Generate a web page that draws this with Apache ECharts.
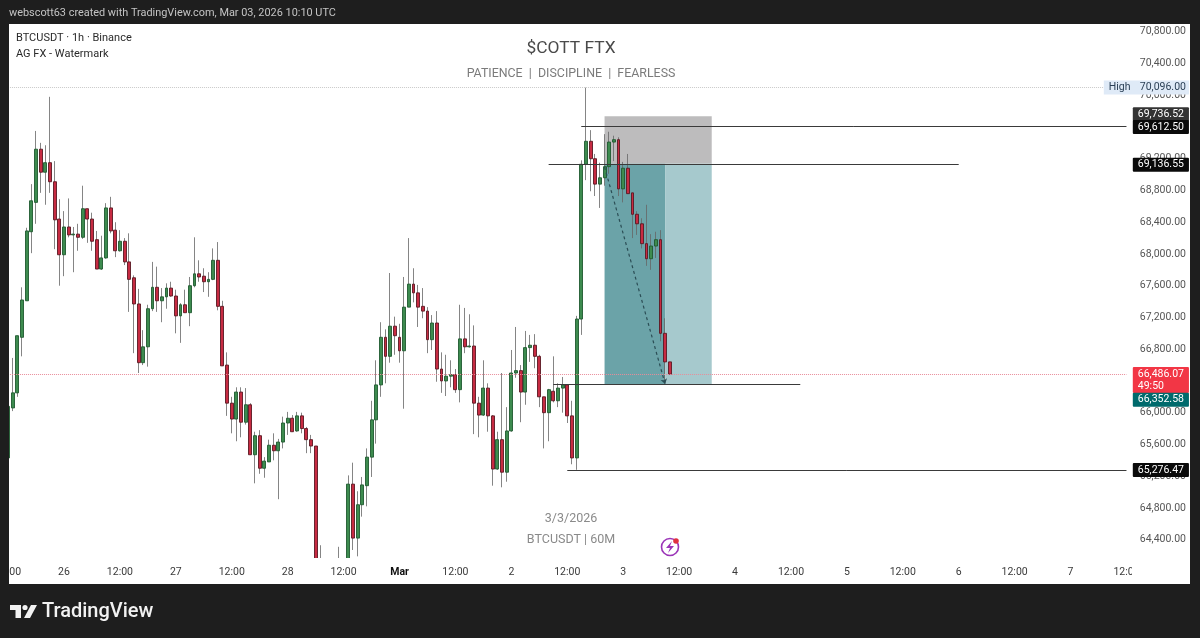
<!DOCTYPE html>
<html><head><meta charset="utf-8">
<style>html,body{margin:0;padding:0;background:#1e1e1e}#c{width:1200px;height:638px}</style>
<script src="https://cdn.jsdelivr.net/npm/echarts@6/dist/echarts.min.js"></script>
</head><body><div id="c"></div>
<script>
// Hourly candles, first one is Feb 25 12:00 UTC
const opens=[65430,66060,66250,66950,67410,68280,68650,69320,69030,69150,68910,68440,67990,68340,68240,68250,68210,68570,68440,68180,67810,67950,68580,68300,68040,68160,67900,67700,67370,66630,66830,67310,67580,67410,67460,67570,67470,67220,67360,67260,67600,67750,67720,67650,67680,67920,67340,66600,66120,65920,66260,65880,66100,65470,65710,65300,65380,65590,65520,65630,65870,65930,65770,65960,65800,65660,65580,63500,63300,63600,63400,63700,63550,63750,65100,64420,64840,65080,65440,65910,66350,66950,66710,67090,66950,66780,67330,67620,67510,67340,67280,66920,67130,66550,66400,66460,66480,66290,66930,66830,66840,66120,65970,66310,65960,65290,65660,65250,65770,66500,66530,66260,66820,66850,66710,66200,66000,66270,66150,66310,66350,65960,65430,67180,69130,69420,69200,68880,68960,69100,69410,69440,68820,69080,68770,68500,68380,68130,67940,68100,68180,67000,66640];
const highs=[66110,66690,66970,67580,68330,68880,69550,69400,69370,69980,69170,68690,68540,68700,68340,68380,68860,68570,68520,68290,68230,68640,68720,68400,68300,68200,68260,67730,67560,67040,67360,67900,67840,67570,67630,67650,67550,67380,67550,67710,68210,67920,67820,67770,68070,68150,67410,66760,66200,66320,66320,66310,66120,65760,65780,65440,65660,65740,65670,65950,66010,65970,66010,66000,65820,65720,65580,64330,63900,64050,63950,64310,64000,65210,65370,65010,65190,65550,66150,66660,67140,67050,67760,67210,67120,67710,68200,67820,67610,67570,67330,67230,67280,66760,66730,66660,66550,67360,67320,67240,67100,66200,66660,66370,65970,65760,66500,66070,66790,67080,66600,67030,66980,66990,66730,66200,66300,66710,66370,66450,66360,66150,67220,69180,70096,69560,69260,69150,69510,69540,69490,69470,69160,69260,68770,68540,68450,68620,68250,68280,68300,67190,66640];
const lows=[65350,66020,66200,66710,67410,68010,68380,68770,68620,68770,68060,67600,67720,68210,67770,68040,68190,68140,68040,67810,67800,67940,68260,67960,68030,67860,67270,66750,66500,66600,66580,67280,67270,67140,67310,67460,67000,66880,67260,67090,67580,67650,67520,67460,67670,67290,66590,65960,65740,65640,65690,65850,65470,65110,65230,65180,65380,65400,64910,65550,65720,65760,65760,65740,65490,65490,63300,63100,63000,63200,63100,63300,63250,63500,64270,64190,64690,64820,65190,65610,66200,66370,66630,66730,66630,66050,67330,67390,67080,67190,66750,66790,66390,66250,66210,66320,66250,66130,66750,66820,65730,65690,65960,65760,65080,65280,65060,65130,65760,66440,65880,66100,66640,66560,66070,65550,65640,66130,66070,66000,65870,65350,65280,66980,68930,68790,68730,68580,68860,69010,69170,68730,68650,68760,68200,68240,68070,67850,67800,67950,66900,66390,66486];
const closes=[66080,66250,66970,67420,68290,68670,69320,69030,69150,68910,68430,67990,68340,68240,68250,68210,68570,68440,68160,67810,67950,68580,68290,68040,68160,67900,67680,67370,66630,66830,67310,67580,67410,67460,67570,67470,67220,67360,67260,67600,67750,67710,67650,67680,67920,67340,66590,66120,65920,66260,65880,66100,65470,65710,65300,65390,65590,65520,65630,65870,65930,65760,65960,65800,65660,65580,63500,63300,63600,63400,63700,63550,63750,65100,64420,64840,65090,65440,65910,66350,66950,66710,67090,66970,66780,67330,67620,67510,67330,67280,66920,67130,66550,66400,66460,66480,66290,66930,66830,66840,66120,65970,66310,65960,65290,65660,65250,65770,66500,66530,66260,66820,66850,66710,66200,66000,66290,66150,66310,66350,65960,65430,67180,69130,69420,69200,68880,68960,69100,69410,69440,68820,69080,68760,68500,68380,68130,67940,68100,68180,67000,66640,66486];
const timeLabels=['12:00','26','12:00','27','12:00','28','12:00','Mar','12:00','2','12:00','3','12:00','4','12:00','5','12:00','6','12:00','7','12:00'];
const priceTicks=[70800,70400,70000,69600,69200,68800,68400,68000,67600,67200,66800,66400,66000,65600,65200,64800,64400];
const levelLong=69612.50, levelEntry=69136.55, levelTarget=66352.58, levelStop=65276.47, levelTop=69736.52;
const dayHigh=70096.00, lastPrice=66486.07;
const slotsPerLabel=12, slotCount=241;
const categories=Array.from({length:slotCount},(_,i)=>'h'+i);
const chart=echarts.init(document.getElementById('c'),null,{renderer:'canvas'});
const fmt=v=>v.toLocaleString('en-US',{minimumFractionDigits:2,maximumFractionDigits:2});
const wickData=opens.map((_,i)=>[lows[i],highs[i],lows[i],highs[i]]);
const bodyData=opens.map((o,i)=>[o,closes[i],Math.min(o,closes[i]),Math.max(o,closes[i])]);
const tagFont={fontFamily:'Roboto',fontSize:10.5,lineHeight:12};
const tag=(v,text,bg,color,off)=>({yAxis:v,lineStyle:{color:'rgba(0,0,0,0)',width:0},label:{show:true,opacity:1,position:'end',distance:4,formatter:text,backgroundColor:bg,color:color,padding:[1,5,1,5],borderRadius:1,offset:[0,off||0],...tagFont}});
const seg=(v,a,b)=>[{xAxis:a,yAxis:v,symbol:'none'},{xAxis:b,yAxis:v,symbol:'none'}];
const frame='#1e1e1e';
chart.setOption({
 animation:false,
 backgroundColor:'#ffffff',
 grid:{left:5.75,right:71.2,top:24,bottom:80,containLabel:false,outerBoundsMode:'none'},
 xAxis:{type:'category',data:categories,boundaryGap:true,z:7,
  axisLine:{show:false},axisTick:{show:false},splitLine:{show:false},
  axisLabel:{interval:slotsPerLabel-1,margin:9,color:'#3a3a3a',fontFamily:'Roboto',fontSize:10.5,hideOverlap:false,
   formatter:(v,i)=>{const t=timeLabels[i/slotsPerLabel];return t==='Mar'?'{b|Mar}':t;},
   rich:{b:{fontWeight:'bold',color:'#111',fontFamily:'Roboto',fontSize:10.5}}}},
 yAxis:{type:'value',position:'right',min:64169,max:70897.6,z:9,scale:true,
  axisLine:{show:false},axisTick:{show:false},splitLine:{show:false},
  axisLabel:{customValues:priceTicks,margin:11,color:'#555',fontFamily:'Roboto',fontSize:10.5,formatter:v=>fmt(v)}},
 series:[
  {type:'candlestick',name:'wick',data:wickData,barWidth:1,z:2,
   itemStyle:{color:'#666666',color0:'#666666',borderColor:'#666666',borderColor0:'#666666',borderWidth:0.8},
   markArea:{silent:true,z:1,data:[
     [{xAxis:128,yAxis:levelTop,itemStyle:{color:'#bdbcbd'}},{xAxis:151,yAxis:levelEntry}],
     [{xAxis:128,yAxis:levelEntry,itemStyle:{color:'#6ba3a8'}},{xAxis:141,yAxis:levelTarget}],
     [{xAxis:141,yAxis:levelEntry,itemStyle:{color:'#a6c9cd'}},{xAxis:151,yAxis:levelTarget}]
   ]}},
  {type:'candlestick',name:'body',data:bodyData,barWidth:3.4,z:3,
   itemStyle:{color:'#3d8b4f',color0:'#c72b42',borderColor:'#1f5a30',borderColor0:'#5a1822',borderWidth:0.9}},
  {type:'line',name:'levels',data:[],z:4,
   markLine:{silent:true,z:10,animation:false,symbol:'none',precision:2,lineStyle:{type:'solid',color:'#3a3a3a',width:1},
    label:{show:false},emphasis:{disabled:true},data:[
     seg(levelLong,123,240),
     seg(levelEntry,116,204),
     seg(levelTarget,117,170),
     seg(levelStop,120,240),
     [{xAxis:0,yAxis:dayHigh,symbol:'none',lineStyle:{type:'dotted',color:'#c9c9c9'}},{xAxis:240,yAxis:dayHigh,symbol:'none'}],
     [{xAxis:0,yAxis:lastPrice,symbol:'none',lineStyle:{type:'dotted',color:'#e98c9a'}},{xAxis:240,yAxis:lastPrice,symbol:'none'}],
     [{xAxis:128,yAxis:69096,symbol:'none',lineStyle:{type:[3,3],color:'#2b4d55',width:1.2}},{xAxis:141,yAxis:66362,symbol:'arrow',symbolSize:5}],
     tag(levelTop,fmt(levelTop),'#333333','#fff',-2),
     tag(levelLong,fmt(levelLong),'#0a0a0a','#fff',1),
     tag(levelEntry,fmt(levelEntry),'#0a0a0a','#fff',1),
     tag(levelStop,fmt(levelStop),'#0a0a0a','#fff',0),
     tag(lastPrice,fmt(lastPrice)+'\n49:50','#f23645','#fff',6),
     tag(levelTarget,fmt(levelTarget),'#006a6c','#fff',15),
     {yAxis:dayHigh,lineStyle:{color:'rgba(0,0,0,0)',width:0},label:{show:true,opacity:1,position:'end',distance:-25,formatter:'{a|High}{b|'+fmt(dayHigh)+'}',backgroundColor:'#dfeaf7',padding:[1,3,1,5],
       rich:{a:{color:'#2a3f55',width:31,...tagFont},b:{color:'#2a3f55',...tagFont}}}}
    ]}}
 ],
 graphic:{elements:[
  {type:'rect',z:6,silent:true,shape:{x:9,y:558,width:1125,height:26},style:{fill:'#fff'}},
  {type:'rect',z:8,silent:true,shape:{x:1132,y:24,width:60,height:560},style:{fill:'#fff'}},
  {type:'rect',z:100,silent:true,shape:{x:0,y:0,width:1200,height:24},style:{fill:frame}},
  {type:'rect',z:100,silent:true,shape:{x:0,y:584,width:1200,height:54},style:{fill:frame}},
  {type:'rect',z:100,silent:true,shape:{x:0,y:0,width:9,height:638},style:{fill:frame}},
  {type:'rect',z:100,silent:true,shape:{x:1190,y:0,width:10,height:638},style:{fill:frame}},
  {type:'text',z:101,silent:true,style:{x:9,y:13,text:'webscott63 created with TradingView.com, Mar 03, 2026 10:10 UTC',fill:'#c4c4c4',font:'10.9px Roboto',textVerticalAlign:'middle'}},
  {type:'text',z:50,silent:true,style:{x:16,y:38,text:'BTCUSDT · 1h · Binance',fill:'#2a2a2a',font:'11px Roboto',textVerticalAlign:'middle'}},
  {type:'text',z:50,silent:true,style:{x:16,y:54,text:'AG FX - Watermark',fill:'#2a2a2a',font:'11px Roboto',textVerticalAlign:'middle'}},
  {type:'text',z:50,silent:true,style:{x:571,y:49,text:'$COTT FTX',fill:'#4a4a4a',font:'17.4px Roboto',textAlign:'center',textVerticalAlign:'middle'}},
  {type:'text',z:50,silent:true,style:{x:571,y:73.5,text:'PATIENCE  |  DISCIPLINE  |  FEARLESS',fill:'#7b7b7b',font:'12.4px Roboto',textAlign:'center',textVerticalAlign:'middle'}},
  {type:'text',z:50,silent:true,style:{x:571,y:518.5,text:'3/3/2026',fill:'#8a8a8a',font:'12.5px Roboto',textAlign:'center',textVerticalAlign:'middle'}},
  {type:'text',z:50,silent:true,style:{x:571,y:539.5,text:'BTCUSDT | 60M',fill:'#8a8a8a',font:'12.5px Roboto',textAlign:'center',textVerticalAlign:'middle'}},
  {type:'circle',z:50,silent:true,shape:{cx:670,cy:547,r:8.5},style:{fill:'none',stroke:'#9b35b8',lineWidth:1.6}},
  {type:'polygon',z:50,silent:true,shape:{points:[[672,541],[666,548],[670,548],[668,553],[674,546],[670,546]]},style:{fill:'#9b35b8'}},
  {type:'circle',z:51,silent:true,shape:{cx:676,cy:541,r:2.8},style:{fill:'#e0303f'}},
  {type:'polygon',z:101,silent:true,shape:{points:[[10,605],[21,605],[21,618],[15.5,618],[15.5,610],[10,610]]},style:{fill:'#f2f2f2'}},
  {type:'circle',z:101,silent:true,shape:{cx:25,cy:607.5,r:2.6},style:{fill:'#f2f2f2'}},
  {type:'polygon',z:101,silent:true,shape:{points:[[31,605],[37,605],[30,618],[24,618]]},style:{fill:'#f2f2f2'}},
  {type:'text',z:101,silent:true,style:{x:42,y:612,text:'TradingView',fill:'#f2f2f2',font:'500 20px Roboto',textVerticalAlign:'middle'}}
 ]}
});
</script></body></html>
